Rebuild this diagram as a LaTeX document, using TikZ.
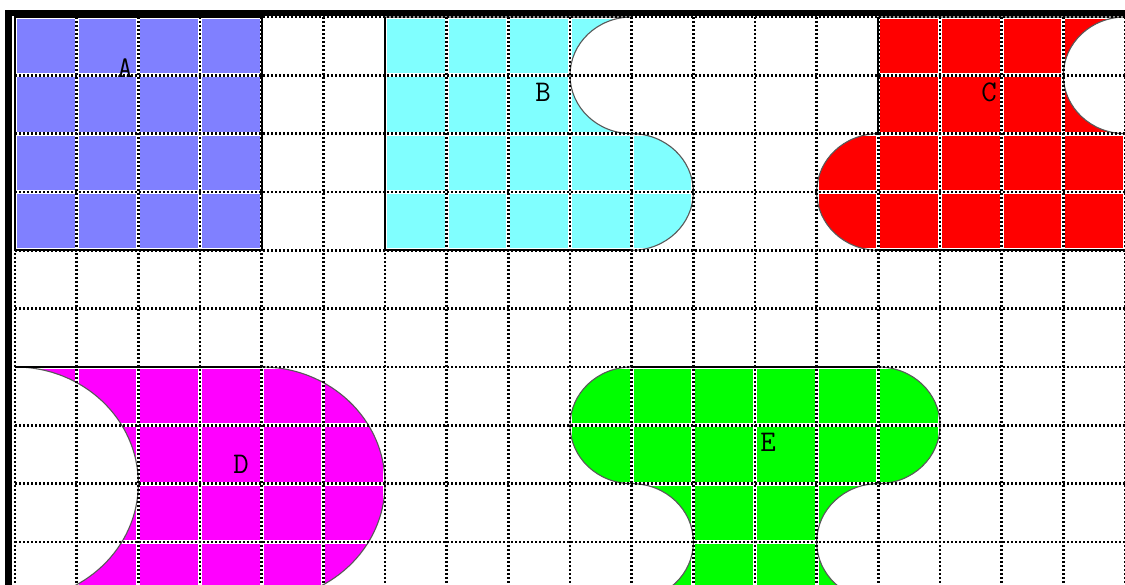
\documentclass[tikz,border=0pt]{standalone}
\usepackage{fontspec}
\definecolor{colA}{RGB}{128,128,255}
\definecolor{colB}{RGB}{128,255,255}
\definecolor{colC}{RGB}{255,0,0}
\definecolor{colD}{RGB}{255,0,255}
\definecolor{colE}{RGB}{0,255,0}
\def\rx{61.67pt}
\def\ry{58.33pt}
\newcommand\shB{(6,0) -- (10,0)
  arc[start angle=90,end angle=270,x radius=\rx,y radius=\ry]
  arc[start angle=90,end angle=-90,x radius=\rx,y radius=\ry]
  -- (6,-4) -- cycle}
\newcommand\shC{(14,0) -- (18,0)
  arc[start angle=90,end angle=270,x radius=\rx,y radius=\ry]
  -- (18.5,-2) -- (18.5,-4) -- (14,-4)
  arc[start angle=270,end angle=90,x radius=\rx,y radius=\ry]
  -- cycle}
\newcommand\shD{(0,-6) -- (4,-6)
  arc[start angle=90,end angle=-90,x radius=2*\rx,y radius=2*\ry]
  -- (0,-10)
  arc[start angle=-90,end angle=90,x radius=2*\rx,y radius=2*\ry]
  -- cycle}
\newcommand\shE{(10,-6) -- (14,-6)
  arc[start angle=90,end angle=-90,x radius=\rx,y radius=\ry]
  arc[start angle=90,end angle=270,x radius=\rx,y radius=\ry]
  -- (10,-10)
  arc[start angle=-90,end angle=90,x radius=\rx,y radius=\ry]
  arc[start angle=270,end angle=90,x radius=\rx,y radius=\ry]
  -- cycle}
\tikzset{
  gridwhite/.style={white, line width=4pt},
  griddot/.style={black, line width=2.6pt, dash pattern=on 2.2pt off 1.8pt},
  arcedge/.style={black!65, line width=1.1pt},
  solidedge/.style={black, line width=2pt},
  lbl/.style={font=\ttfamily\fontsize{30}{30}\selectfont, inner sep=0pt, text=black}
}
\begin{document}
\begin{tikzpicture}[x=61.67pt,y=58.33pt]
\useasboundingbox (-15pt,17pt) rectangle (1110pt,-568pt);
\clip (-15pt,17pt) rectangle (1110pt,-568pt);
\fill[white] (-15pt,17pt) rectangle (1110pt,-568pt);
% fills
\fill[colA] (0,0) rectangle (4,-4);
\fill[colB] \shB;
\fill[colC] \shC;
\fill[colD] \shD;
\fill[colE] \shE;
% white backing of grid
\foreach \i in {0,...,18} \draw[gridwhite] (\i,0) -- (\i,-10);
\foreach \j in {0,...,9} \draw[gridwhite] (0,-\j) -- (18.5,-\j);
% outlines
\draw[arcedge] \shB;
\draw[arcedge] \shC;
\draw[arcedge] \shD;
\draw[arcedge] \shE;
\draw[solidedge] (0,0) rectangle (4,-4);
\draw[solidedge] (6,0) -- (6,-4) -- (10,-4);
\draw[solidedge] (14,0) -- (14,-2);
\draw[solidedge] (14,-4) -- (18.5,-4);
\draw[solidedge] (0,-6) -- (4,-6);
\draw[solidedge] (10,-6) -- (14,-6);
% grid dots
\foreach \i in {0,...,18} \draw[griddot] (\i,0) -- (\i,-10);
\foreach \j in {0,...,9} \draw[griddot] (0,-\j) -- (18.5,-\j);
% frame
\fill[black] (-10pt,7pt) rectangle (1115pt,1pt);
\fill[black] (-10pt,7pt) rectangle (-3pt,-575pt);
% labels
\node[lbl] (labA) at (1.784,-0.874) {A};
\node[lbl] (labB) at (8.562,-1.286) {B};
\node[lbl] (labC) at (15.794,-1.286) {C};
\node[lbl] (labD) at (3.665,-7.663) {D};
\node[lbl] (labE) at (12.210,-7.286) {E};
\end{tikzpicture}
\end{document}
